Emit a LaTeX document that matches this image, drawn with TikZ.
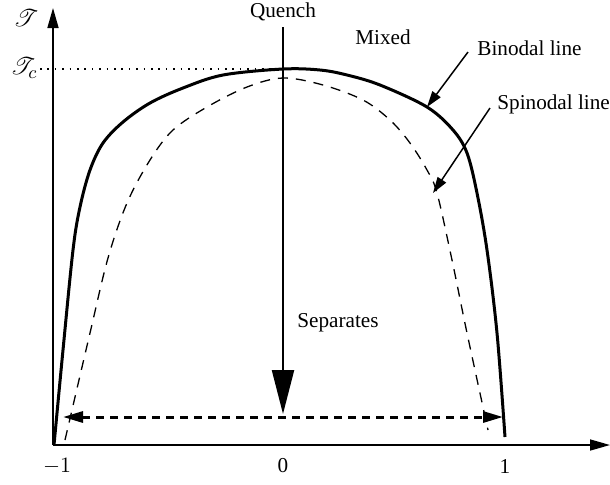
\documentclass[tikz,border=0pt]{standalone}
\usepackage{fontspec}
\setmainfont{Liberation Serif}
\usepackage{mathrsfs}
\usetikzlibrary{arrows.meta}
\begin{document}
\begin{tikzpicture}[x=0.5pt,y=-0.5pt,
  lbl/.style={font=\fontsize{10.6}{12}\selectfont, inner sep=1pt},
  mlbl/.style={font=\fontsize{13}{15}\selectfont, inner sep=1pt},
  axis/.style={line width=0.8pt, -{Triangle[length=10pt,width=5.5pt]}},
  binodal/.style={line width=1.5pt},
  spinodal/.style={line width=0.65pt, dash pattern=on 5pt off 4pt},
  pointer/.style={line width=0.75pt, -{Triangle[length=8pt,width=5pt]}},
  quench/.style={line width=1.1pt, -{Triangle[length=22pt,width=11pt]}},
  sep/.style={line width=1.5pt, dash pattern=on 4pt off 3pt, {Triangle[length=10pt,width=5.5pt]}-{Triangle[length=10pt,width=5.5pt]}}]
\useasboundingbox (0,0) rectangle (610,484);
% coordinates
\coordinate (O) at (53,445);
\coordinate (Ytop) at (53,8);
\coordinate (Xend) at (610,445);
\coordinate (Ttick) at (40,69);
\coordinate (Peak) at (283,69);
\coordinate (Qtop) at (283,27);
\coordinate (Qend) at (283,414);
\coordinate (Sl) at (63,417);
\coordinate (Sr) at (503,417);
\coordinate (Bpt) at (427,107);
\coordinate (Spt) at (433,193);
% axes
\draw[axis] (O) -- (Ytop);
\draw[axis] (O) -- (Xend);
% dotted Tc line
\draw[line width=0.8pt, dash pattern=on 0.8pt off 2.9pt] (Ttick) -- (Peak);
% binodal
\draw[binodal] plot[smooth, tension=0.55] coordinates {(54,445) (63,350) (73,250) (80,207) (90,170) (103,143) (123,122) (150,103) (183,88) (223,75) (283,69) (320,70) (347,75) (380,85) (427,107) (453,130) (467,153) (477,193) (487,250) (497,333) (505,437)};
% spinodal
\draw[spinodal] plot[smooth, tension=0.55] coordinates {(65,440) (90,333) (108,258) (127,203) (150,160) (173,130) (207,107) (247,87) (283,78) (323,85) (363,100) (390,120) (410,143) (427,170) (437,193) (452,260) (467,333) (488,430)};
% quench arrow
\draw[quench] (Qtop) -- (Qend);
% separation double arrow
\draw[sep] (Sl) -- (Sr);
% labels
\node[lbl] (qlab) at (283,12) {Quench};
\node[lbl] (mixed) at (383,37) {Mixed};
\node[lbl, anchor=west] (blab) at (475,48) {Binodal line};
\node[lbl, anchor=west] (slab) at (495,104) {Spinodal line};
\node[lbl] (seplab) at (338,323) {Separates};
\node[mlbl] (ylab) at (26,18) {$\mathscr{T}$};
\node[mlbl] (tclab) at (24,68) {$\mathscr{T}_c$};
\node[lbl] (xm1) at (57,466) {$-1$};
\node[lbl] (x0) at (283,466) {0};
\node[lbl] (x1) at (505,466) {1};
\coordinate (bstart) at (468,52);
\coordinate (sstart) at (490,108);
\draw[pointer] (bstart) -- (Bpt);
\draw[pointer] (sstart) -- (Spt);
\end{tikzpicture}
\end{document}
